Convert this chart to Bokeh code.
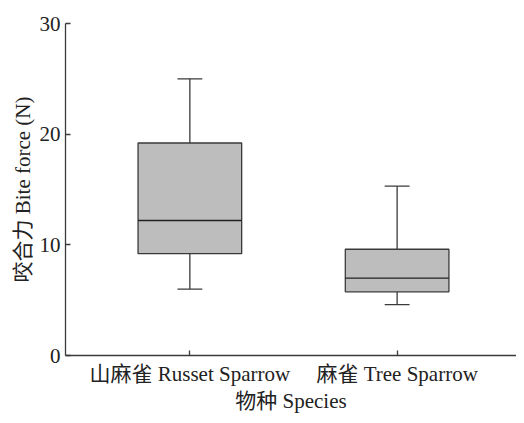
from bokeh.plotting import figure
from bokeh.models import ColumnDataSource, FixedTicker, Range1d
from bokeh.transform import dodge
from bokeh.embed import file_html
from bokeh.resources import INLINE

# Data
categories = ["山麻雀 Russet Sparrow", "麻雀 Tree Sparrow"]
positions = [1, 2]
lower_whisker = [6.0, 4.6]
q1 = [9.2, 5.75]
median = [12.2, 7.0]
q3 = [19.2, 9.6]
upper_whisker = [25.0, 15.3]
y_ticks = [0, 10, 20, 30]

FONT = "Liberation Serif, Noto Sans CJK SC"
LINE = "#3a3a3a"

source = ColumnDataSource(dict(x=positions, lw=lower_whisker, q1=q1, med=median,
                               q3=q3, uw=upper_whisker))

p = figure(width=516, height=415, output_backend="svg", toolbar_location=None,
           x_range=Range1d(0.4, 2.576), y_range=Range1d(0, 30),
           min_border_left=65, min_border_right=0, min_border_top=23, min_border_bottom=56)
p.outline_line_color = None
p.grid.visible = False
p.background_fill_color = "white"

# whisker stems
p.segment(x0="x", x1="x", y0="q3", y1="uw", source=source, line_color=LINE, line_width=1.3)
p.segment(x0="x", x1="x", y0="lw", y1="q1", source=source, line_color=LINE, line_width=1.3)
# caps
p.segment(x0=dodge("x", -0.06), x1=dodge("x", 0.06), y0="uw", y1="uw", source=source,
          line_color=LINE, line_width=1.3)
p.segment(x0=dodge("x", -0.06), x1=dodge("x", 0.06), y0="lw", y1="lw", source=source,
          line_color=LINE, line_width=1.3)
# boxes
p.vbar(x="x", width=0.5, bottom="q1", top="q3", source=source,
       fill_color="#bdbdbd", line_color=LINE, line_width=1.3)
# medians
p.segment(x0=dodge("x", -0.25), x1=dodge("x", 0.25), y0="med", y1="med", source=source,
          line_color="#222222", line_width=1.3)

# axes
p.xaxis.ticker = FixedTicker(ticks=positions)
p.xaxis.major_label_overrides = {pos: cat for pos, cat in zip(positions, categories)}
p.yaxis.ticker = FixedTicker(ticks=y_ticks)
p.xaxis.axis_label = "物种 Species"
p.yaxis.axis_label = "咬合力 Bite force (N)"

for ax in (p.xaxis[0], p.yaxis[0]):
    ax.axis_line_color = LINE
    ax.axis_line_width = 1.3
    ax.major_tick_line_color = LINE
    ax.major_tick_line_width = 1.3
    ax.minor_tick_line_color = None
    ax.major_label_text_font = FONT
    ax.major_label_text_font_size = "21px"
    ax.major_label_text_color = "#222222"
    ax.axis_label_text_font = FONT
    ax.axis_label_text_font_size = "21px"
    ax.axis_label_text_font_style = "normal"
    ax.axis_label_text_color = "#222222"

p.xaxis.major_tick_in = 5
p.xaxis.major_tick_out = 0
p.xaxis.major_label_standoff = 6
p.xaxis.axis_label_standoff = 0
p.yaxis.major_tick_in = 5
p.yaxis.major_tick_out = 0
p.yaxis.major_label_standoff = 5
p.yaxis.axis_label_standoff = 2

open("out.html", "w").write(file_html(p, INLINE))
